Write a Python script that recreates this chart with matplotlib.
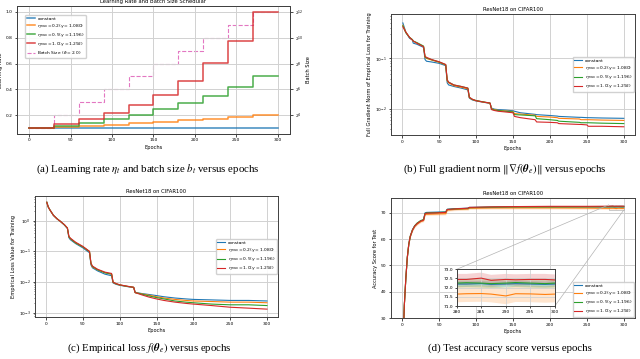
import matplotlib
matplotlib.use('Agg')
import matplotlib.pyplot as plt
from matplotlib.ticker import FormatStrFormatter, FixedLocator
from mpl_toolkits.axes_grid1.inset_locator import mark_inset

# ---------------- data ----------------
series_labels = ['constant',
                 r'$\eta_{\max} = 0.2(\gamma = 1.080)$',
                 r'$\eta_{\max} = 0.5(\gamma = 1.196)$',
                 r'$\eta_{\max} = 1.0(\gamma = 1.292)$']
series_colors = ['#1f77b4', '#ff7f0e', '#2ca02c', '#d62728']
batch_label = r'Batch Size ($\delta = 2.0$)'

# (a) schedules: value per 30-epoch stage
stage_epochs = [0, 30, 60, 90, 120, 150, 180, 210, 240, 270, 300]
lr_constant = [0.1, 0.1, 0.1, 0.1, 0.1, 0.1, 0.1, 0.1, 0.1, 0.1]
lr_eta02 = [0.1, 0.108, 0.117, 0.126, 0.136, 0.147, 0.159, 0.171, 0.185, 0.2]
lr_eta05 = [0.1, 0.120, 0.143, 0.171, 0.205, 0.245, 0.293, 0.350, 0.419, 0.5]
lr_eta10 = [0.1, 0.129, 0.167, 0.216, 0.279, 0.360, 0.465, 0.601, 0.776, 1.0]
batch_size = [8, 16, 32, 64, 128, 256, 512, 1024, 2048, 4096]
batch_ticks = [16, 64, 256, 1024, 4096]
batch_ticklabels = [r'$2^{4}$', r'$2^{6}$', r'$2^{8}$', r'$2^{10}$', r'$2^{12}$']

# (b) full gradient norm (key points)
grad_ep_early = [1, 5, 10, 14, 15, 20, 29, 31, 33, 40, 50, 59, 61, 63, 70, 80, 89,
                 91, 95, 100, 110, 119, 121, 125, 130, 140, 150]
grad_const_early = [0.50, 0.33, 0.25, 0.23, 0.20, 0.19, 0.165, 0.095, 0.088, 0.085, 0.080,
                    0.072, 0.033, 0.030, 0.028, 0.026, 0.024, 0.0165, 0.0152, 0.0145,
                    0.0137, 0.0130, 0.0105, 0.0100, 0.0098, 0.0096, 0.0093]
grad_eta02_early = [0.45, 0.33, 0.26, 0.23, 0.22, 0.20, 0.17, 0.105, 0.100, 0.093, 0.084,
                    0.074, 0.036, 0.033, 0.029, 0.027, 0.025, 0.0168, 0.0155, 0.0147,
                    0.0138, 0.0131, 0.0102, 0.0098, 0.0095, 0.0092, 0.0090]
grad_eta05_early = [0.44, 0.32, 0.26, 0.235, 0.22, 0.205, 0.175, 0.108, 0.102, 0.094, 0.085,
                    0.075, 0.037, 0.034, 0.030, 0.028, 0.026, 0.0170, 0.0156, 0.0148,
                    0.0139, 0.0132, 0.0100, 0.0096, 0.0094, 0.0091, 0.0088]
grad_eta10_early = [0.42, 0.33, 0.26, 0.23, 0.22, 0.20, 0.17, 0.110, 0.105, 0.095, 0.086,
                    0.076, 0.038, 0.034, 0.030, 0.028, 0.026, 0.0172, 0.0157, 0.0147,
                    0.0138, 0.0132, 0.0098, 0.0094, 0.0091, 0.0088, 0.0085]
grad_ep_late = [152, 160, 180, 182, 200, 210, 212, 240, 242, 250, 252, 270, 300]
grad_const_late = [0.0091, 0.0085, 0.0079, 0.0078, 0.0075, 0.0073, 0.0072, 0.0069, 0.0069,
                   0.0068, 0.0068, 0.0067, 0.0066]
grad_eta02_late = [0.0082, 0.0080, 0.0076, 0.0072, 0.0070, 0.0068, 0.0066, 0.0064, 0.0062,
                   0.0062, 0.0062, 0.0061, 0.0060]
grad_eta05_late = [0.0078, 0.0077, 0.0074, 0.0065, 0.0062, 0.0060, 0.0058, 0.0055, 0.0054,
                   0.0054, 0.0054, 0.0053, 0.0052]
grad_eta10_late = [0.0072, 0.0068, 0.0062, 0.0056, 0.0055, 0.0054, 0.0052, 0.0050, 0.0050,
                   0.0049, 0.0046, 0.0046, 0.0045]

# (c) empirical loss
loss_ep = [1, 3, 5, 10, 15, 20, 25, 29, 31, 33, 40, 50, 59, 61, 63, 70, 80, 89, 91, 95, 100,
           110, 119, 121, 130, 140, 150, 160, 175, 190, 200, 225, 250, 275, 300]
loss_const = [4.0, 2.8, 2.3, 1.5, 1.15, 0.93, 0.72, 0.56, 0.28, 0.24, 0.18, 0.13, 0.090,
              0.036, 0.029, 0.023, 0.018, 0.016, 0.0093, 0.0084, 0.0078, 0.0071, 0.0066,
              0.0046, 0.0042, 0.0039, 0.0036, 0.0033, 0.0030, 0.0028, 0.0027, 0.0026,
              0.0025, 0.0025, 0.0024]
loss_eta02 = [4.0, 2.8, 2.3, 1.5, 1.15, 0.93, 0.73, 0.57, 0.30, 0.26, 0.19, 0.14, 0.097,
              0.039, 0.031, 0.025, 0.020, 0.018, 0.0097, 0.0087, 0.0080, 0.0072, 0.0067,
              0.0045, 0.0041, 0.0037, 0.0033, 0.0030, 0.0027, 0.0025, 0.0024, 0.0023,
              0.0022, 0.0022, 0.0021]
loss_eta05 = [4.0, 2.8, 2.3, 1.5, 1.15, 0.93, 0.73, 0.57, 0.30, 0.26, 0.19, 0.14, 0.098,
              0.040, 0.032, 0.025, 0.020, 0.018, 0.0098, 0.0088, 0.0080, 0.0072, 0.0067,
              0.0045, 0.0040, 0.0035, 0.0031, 0.0028, 0.0024, 0.0022, 0.0021, 0.0019,
              0.0018, 0.0018, 0.0017]
loss_eta10 = [4.0, 2.8, 2.3, 1.5, 1.15, 0.93, 0.74, 0.58, 0.31, 0.27, 0.20, 0.145, 0.100,
              0.041, 0.033, 0.026, 0.021, 0.019, 0.0099, 0.0089, 0.0081, 0.0073, 0.0067,
              0.0045, 0.0038, 0.0032, 0.0028, 0.0025, 0.0022, 0.0020, 0.0019, 0.0017,
              0.0015, 0.0014, 0.0013]

# (d) test accuracy
acc_ep = [1, 2, 3, 5, 7, 9, 11, 14, 17, 20, 25, 29, 31, 33, 45, 59, 61, 70, 89, 91, 120,
          150, 200, 250, 280, 282, 285, 287, 290, 292, 295, 298, 300]
acc_const = [18, 27, 35, 45, 53, 58, 61, 63.5, 65.0, 65.8, 66.8, 67.2, 69.9, 70.1, 70.2,
             70.3, 71.3, 71.5, 71.7, 72.0, 72.1, 72.2, 72.2, 72.2, 72.2, 72.2, 72.22,
             72.18, 72.2, 72.22, 72.2, 72.18, 72.2]
acc_eta02 = [18, 27, 35, 45, 53, 58, 61, 63.3, 64.8, 65.6, 66.6, 67.0, 69.3, 69.4, 69.5,
             69.6, 71.0, 71.2, 71.4, 71.7, 71.8, 71.8, 71.8, 71.75, 71.65, 71.67, 71.68,
             71.65, 71.55, 71.67, 71.66, 71.63, 71.65]
acc_eta05 = [18, 27, 35, 45, 53, 58, 61, 63.5, 65.0, 66.0, 67.0, 67.4, 69.7, 69.9, 70.0,
             70.2, 71.2, 71.4, 71.6, 71.9, 72.1, 72.2, 72.2, 72.25, 72.25, 72.27, 72.25,
             72.22, 72.25, 72.28, 72.25, 72.22, 72.25]
acc_eta10 = [18, 27, 35, 45, 53, 58, 61, 63.4, 64.9, 65.8, 66.8, 67.2, 69.6, 69.8, 69.9,
             70.1, 71.2, 71.4, 71.7, 72.0, 72.2, 72.3, 72.4, 72.4, 72.45, 72.45, 72.52,
             72.4, 72.45, 72.43, 72.45, 72.45, 72.42]
acc_spread_const = 0.15
acc_spread_eta02 = 0.45
acc_spread_eta05 = 0.25
acc_spread_eta10 = 0.30

# ---------------- style ----------------
TICK = 3.2
LAB = 3.7
TIT = 3.8
LEG = 3.2
LW = 0.8
LEG_KW = dict(fontsize=LEG, labelspacing=0.25, borderpad=0.35, handlelength=1.8,
              handletextpad=0.6, borderaxespad=0, framealpha=0.9)

plt.rcParams['axes.linewidth'] = 0.7
plt.rcParams['axes.edgecolor'] = '0.25'

fig = plt.figure(figsize=(6.4, 3.59), dpi=100)


def style(ax):
    ax.grid(True, color='0.82', linewidth=0.7)
    ax.set_axisbelow(True)
    ax.tick_params(labelsize=TICK, length=1.8, width=0.5, pad=1.5)
    ax.tick_params(which='minor', length=1.0, width=0.4)
    ax.set_xlim(-15, 315)
    ax.set_xlabel('Epochs', fontsize=LAB, labelpad=1.5)


# ---------------- (a) ----------------
axa = fig.add_axes([0.0266, 0.627, 0.4264, 0.356])
lr_lists = [lr_constant, lr_eta02, lr_eta05, lr_eta10]
handles = []
for vals, c, lab in zip(lr_lists, series_colors, series_labels):
    h, = axa.step(stage_epochs, vals + [vals[-1]], where='post', color=c, lw=1.1,
                  alpha=0.85, label=lab)
    handles.append(h)
style(axa)
axa.set_ylabel('Learning Rate', fontsize=LAB, labelpad=1.5)
axa.set_title('Learning Rate and Batch Size Schedular', fontsize=TIT, pad=2)
axb2 = axa.twinx()
hb, = axb2.step(stage_epochs, batch_size + [batch_size[-1]], where='post', color='#e377c2',
                lw=0.8, ls='--', label=batch_label)
axb2.set_yscale('log', base=2)
axb2.yaxis.set_major_locator(FixedLocator(batch_ticks))
axb2.set_yticklabels(batch_ticklabels)
axb2.yaxis.set_minor_locator(FixedLocator([]))
axb2.tick_params(labelsize=TICK, length=1.8, width=0.5, pad=1.5)
axb2.set_ylabel('Batch Size', fontsize=LAB, labelpad=2)
axb2.set_xlim(-15, 315)
handles.append(hb)
axa.legend(handles=handles, labels=[h.get_label() for h in handles],
           loc='upper left', bbox_to_anchor=(0.03, 0.93), **LEG_KW)
axa.set_zorder(axb2.get_zorder() + 1)
axa.patch.set_visible(False)

# ---------------- (b) ----------------
axb = fig.add_axes([0.611, 0.624, 0.381, 0.337])
grad_early = [grad_const_early, grad_eta02_early, grad_eta05_early, grad_eta10_early]
grad_late = [grad_const_late, grad_eta02_late, grad_eta05_late, grad_eta10_late]
for e, l, c, lab in zip(grad_early, grad_late, series_colors, series_labels):
    axb.plot(grad_ep_early + grad_ep_late, e + l, color=c, lw=LW, label=lab)
axb.set_yscale('log')
axb.set_ylim(0.0031, 0.75)
style(axb)
axb.set_ylabel('Full Gradient Norm of Empirical Loss for Training', fontsize=LAB, labelpad=2)
axb.set_title('ResNet18 on CIFAR100', fontsize=TIT, pad=2)
axb.legend(loc='center right', bbox_to_anchor=(0.995, 0.5), **LEG_KW)

# ---------------- (c) ----------------
axc = fig.add_axes([0.0547, 0.117, 0.3797, 0.337])
for vals, c, lab in zip([loss_const, loss_eta02, loss_eta05, loss_eta10], series_colors,
                        series_labels):
    axc.plot(loss_ep, vals, color=c, lw=LW, label=lab)
axc.set_yscale('log')
axc.set_ylim(0.00072, 6.4)
style(axc)
axc.set_ylabel('Empirical Loss Value for Training', fontsize=LAB, labelpad=2)
axc.set_title('ResNet18 on CIFAR100', fontsize=TIT, pad=2)
axc.legend(loc='center right', bbox_to_anchor=(0.995, 0.5), **LEG_KW)

# ---------------- (d) ----------------
axd = fig.add_axes([0.611, 0.114, 0.381, 0.334])
axi = fig.add_axes([0.7136, 0.1476, 0.1534, 0.1022])
acc_lists = [acc_const, acc_eta02, acc_eta05, acc_eta10]
spreads = [acc_spread_const, acc_spread_eta02, acc_spread_eta05, acc_spread_eta10]
for vals, s, c, lab in zip(acc_lists, spreads, series_colors, series_labels):
    lo = [v - s for v in vals]
    hi = [v + s for v in vals]
    for ax in (axd, axi):
        ax.fill_between(acc_ep, lo, hi, color=c, alpha=0.2, lw=0)
        ax.plot(acc_ep, vals, color=c, lw=LW, label=lab)
axd.set_ylim(30, 75.5)
style(axd)
axd.set_ylabel('Accuracy Score for Test', fontsize=LAB, labelpad=2)
axd.set_title('ResNet18 on CIFAR100', fontsize=TIT, pad=2)
axd.legend(loc='lower right', bbox_to_anchor=(0.995, 0.01), **LEG_KW)

axi.set_xlim(280, 300)
axi.set_ylim(71.0, 73.0)
axi.set_xticks([280, 285, 290, 295, 300])
axi.set_yticks([71.0, 71.5, 72.0, 72.5, 73.0])
axi.yaxis.set_major_formatter(FormatStrFormatter('%.1f'))
axi.grid(True, color='0.82', linewidth=0.6)
axi.tick_params(labelsize=TICK, length=1.5, width=0.5, pad=1.2)
mark_inset(axd, axi, loc1=2, loc2=4, fc='none', ec='0.7', lw=0.5)

# ---------------- captions ----------------
cap_kw = dict(fontsize=7.8, family='Liberation Serif', math_fontfamily='stix',
              ha='center', va='center')
fig.text(0.231, 0.529, r'(a) Learning rate $\eta_t$ and batch size $b_t$ versus epochs', **cap_kw)
fig.text(0.789, 0.529, r'(b) Full gradient norm $\Vert\nabla f(\boldsymbol{\theta}_e)\Vert$ versus epochs', **cap_kw)
fig.text(0.234, 0.031, r'(c) Empirical loss $f(\boldsymbol{\theta}_e)$ versus epochs', **cap_kw)
fig.text(0.797, 0.031, '(d) Test accuracy score versus epochs', **cap_kw)

fig.savefig('out.png', dpi=100)
